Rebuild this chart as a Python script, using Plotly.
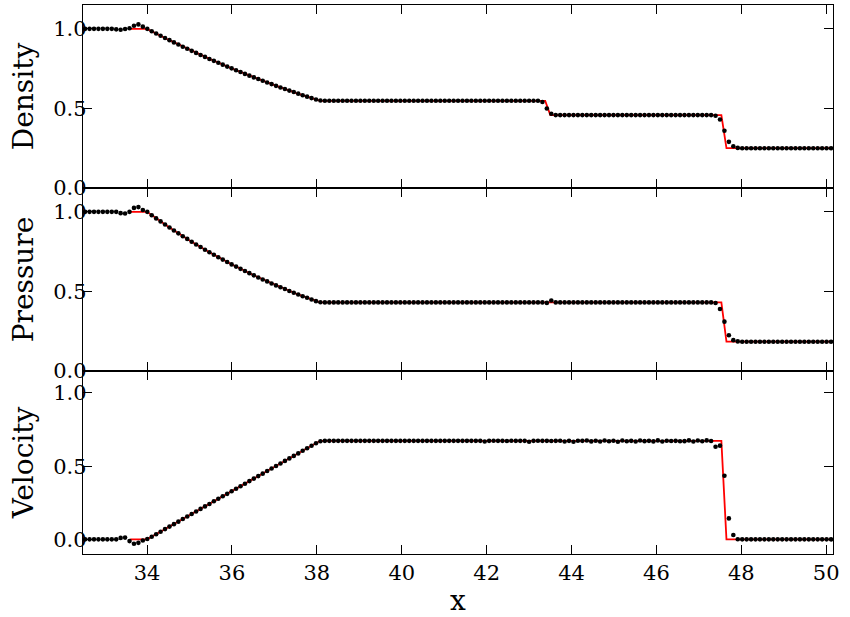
import plotly.graph_objects as go

# ---- simulation grid (uniform cells) ----
x_start = 32.54
dx = 0.1046
n_cells = 169
x_sim = [round(x_start + dx * i, 4) for i in range(n_cells)]

# ---- simulated values (dots) ----
density_sim = ([1.0] * 7 + [0.997, 0.994, 0.999, 1.004, 1.02, 1.028, 1.014, 1.0] +
               [0.985, 0.971, 0.957, 0.943, 0.929, 0.915, 0.902, 0.888, 0.875, 0.862,
                0.849, 0.836, 0.824, 0.811, 0.799, 0.787, 0.775, 0.763, 0.752, 0.740,
                0.729, 0.717, 0.706, 0.695, 0.685, 0.674, 0.663, 0.653, 0.642, 0.632,
                0.622, 0.612, 0.603, 0.593, 0.583, 0.574, 0.565, 0.556] +
               [0.550] + [0.548] * 49 + [0.540, 0.500, 0.467] + [0.458] * 36 +
               [0.454, 0.430, 0.360, 0.290, 0.262, 0.252] + [0.25] * 21)

pressure_sim = ([1.0] * 8 + [0.992, 0.990, 1.0, 1.025, 1.03, 1.012, 1.0] +
                [0.979, 0.959, 0.940, 0.921, 0.902, 0.883, 0.865, 0.847, 0.830, 0.812,
                 0.795, 0.779, 0.762, 0.746, 0.731, 0.715, 0.700, 0.685, 0.670, 0.656,
                 0.642, 0.628, 0.615, 0.601, 0.588, 0.575, 0.563, 0.550, 0.538, 0.526,
                 0.515, 0.503, 0.492, 0.481, 0.470, 0.460, 0.449, 0.439] +
                [0.432] + [0.431] * 50 + [0.428, 0.443] + [0.431] * 36 +
                [0.427, 0.390, 0.310, 0.225, 0.194, 0.186] + [0.184] * 21)

velocity_sim = ([0.0] * 8 + [0.010, 0.012, -0.012, -0.030, -0.024, -0.008, 0.002] +
                [0.018, 0.035, 0.052, 0.070, 0.087, 0.104, 0.121, 0.139, 0.156, 0.173,
                 0.190, 0.208, 0.225, 0.242, 0.260, 0.277, 0.294, 0.311, 0.329, 0.346,
                 0.363, 0.380, 0.398, 0.415, 0.432, 0.449, 0.467, 0.484, 0.501, 0.518,
                 0.536, 0.553, 0.570, 0.587, 0.605, 0.622, 0.639, 0.656] +
                [0.670] + [0.673] * 35 +
                [0.673, 0.668, 0.673, 0.674, 0.673, 0.673, 0.672, 0.674, 0.673, 0.673,
                 0.673, 0.667, 0.673, 0.674, 0.673, 0.673, 0.672, 0.673, 0.674, 0.668,
                 0.673, 0.667, 0.674, 0.673, 0.675, 0.669, 0.674, 0.668, 0.675, 0.670,
                 0.674, 0.667, 0.675, 0.670, 0.673, 0.668, 0.675, 0.671, 0.673, 0.669,
                 0.676, 0.668, 0.674, 0.672, 0.673, 0.670, 0.671, 0.676, 0.668, 0.675,
                 0.670, 0.676, 0.672] +
                [0.633, 0.640, 0.435, 0.143, 0.030, 0.001] + [0.0] * 21)

# ---- exact solution (red line) ----
x_exact = [33.6, 34.0, 34.5, 35.0, 35.5, 36.0, 36.5, 37.0, 37.5, 38.08,
           43.38, 43.50, 47.53, 47.65, 50.16]
density_exact = [1.0, 1.0, 0.932, 0.868, 0.808, 0.751, 0.697, 0.646, 0.598, 0.547,
                 0.547, 0.458, 0.458, 0.25, 0.25]
pressure_exact = [1.0, 1.0, 0.906, 0.820, 0.742, 0.669, 0.603, 0.543, 0.487, 0.431,
                  0.431, 0.431, 0.431, 0.184, 0.184]
velocity_exact = [0.0, 0.0, 0.083, 0.165, 0.247, 0.330, 0.412, 0.495, 0.577, 0.673,
                  0.673, 0.673, 0.673, 0.0, 0.0]

panel_names = ["Density", "Pressure", "Velocity"]
y_ranges = [[0, 1.15], [0, 1.15], [-0.1, 1.15]]
x_ticks = [34, 36, 38, 40, 42, 44, 46, 48, 50]
y_ticks = [0.0, 0.5, 1.0]
y_tick_text = ["0.0", "0.5", "1.0"]

FONT = "DejaVu Serif"
fig = go.Figure()

sim = [density_sim, pressure_sim, velocity_sim]
exact = [density_exact, pressure_exact, velocity_exact]
domains = [[2 / 3, 1.0], [1 / 3, 2 / 3], [0.0, 1 / 3]]

for k in range(3):
    xa = "x" if k == 0 else f"x{k+1}"
    ya = "y" if k == 0 else f"y{k+1}"
    fig.add_trace(go.Scatter(x=x_exact, y=exact[k], mode="lines",
                             line=dict(color="#ff0000", width=1.8),
                             xaxis=xa, yaxis=ya, showlegend=False))
    fig.add_trace(go.Scatter(x=x_sim, y=sim[k], mode="markers",
                             marker=dict(color="black", size=4.6),
                             xaxis=xa, yaxis=ya, showlegend=False))

common = dict(showline=True, linecolor="black", linewidth=1.3, mirror="ticks",
              ticks="inside", ticklen=9, tickwidth=1.1, tickcolor="black",
              showgrid=False, zeroline=False,
              tickfont=dict(family=FONT, size=21, color="black"))

layout = dict(
    width=850, height=617,
    margin=dict(l=83, r=17, t=4, b=62),
    paper_bgcolor="white", plot_bgcolor="white",
    font=dict(family=FONT, color="black"),
)
for k in range(3):
    xkey = "xaxis" if k == 0 else f"xaxis{k+1}"
    ykey = "yaxis" if k == 0 else f"yaxis{k+1}"
    xd = dict(common, range=[32.49, 50.16], tickvals=x_ticks,
              showticklabels=(k == 2), anchor="y" if k == 0 else f"y{k+1}")
    if k > 0:
        xd["matches"] = "x"
    if k == 2:
        xd["title"] = dict(text="x", font=dict(family=FONT, size=28, color="black"),
                           standoff=8)
    yd = dict(common, range=y_ranges[k], tickvals=y_ticks, ticktext=y_tick_text,
              domain=domains[k], anchor="x" if k == 0 else f"x{k+1}",
              ticklabelstandoff=-9,
              title=dict(text=panel_names[k],
                         font=dict(family=FONT, size=28, color="black"),
                         standoff=11))
    layout[xkey] = xd
    layout[ykey] = yd

fig.update_layout(**layout)
fig.write_html("out.html", config={"displayModeBar": False},
               post_script="document.body.style.margin='0';document.body.style.padding='0';")
